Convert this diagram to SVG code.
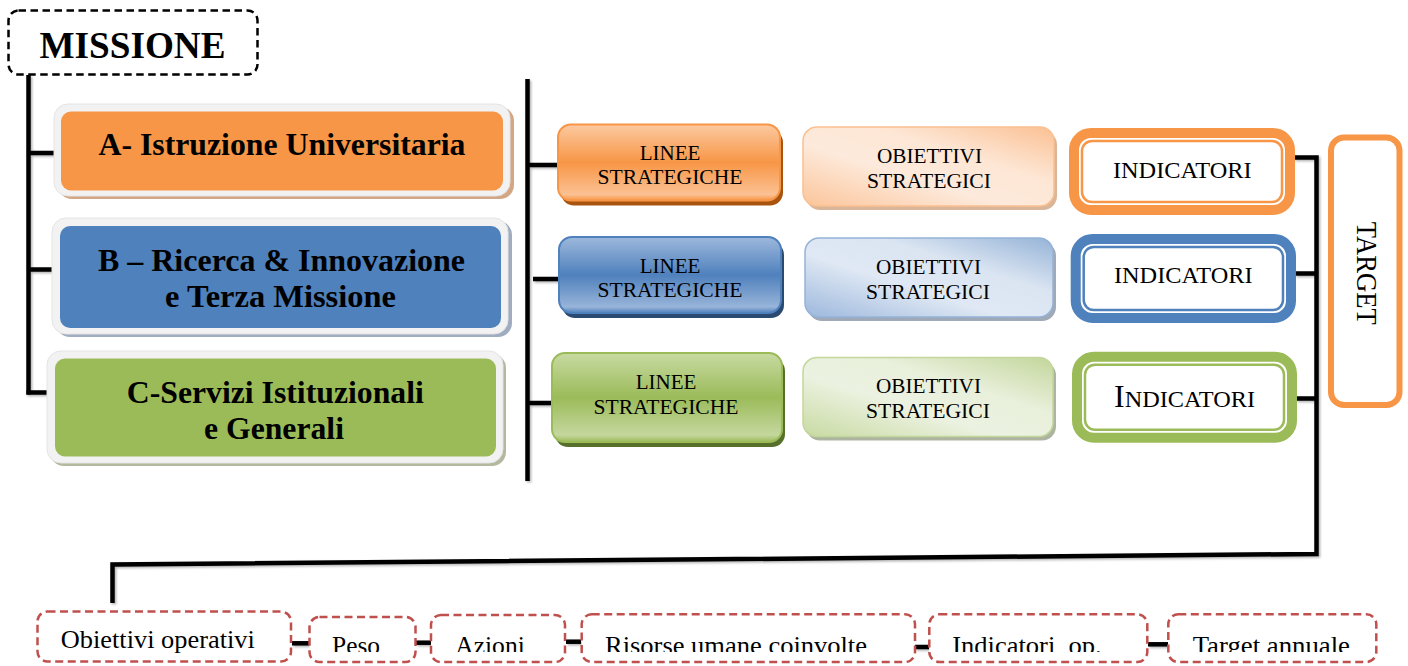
<svg xmlns="http://www.w3.org/2000/svg" width="1408" height="666" viewBox="0 0 1408 666">
<style>
.t{font-family:"Liberation Serif","Times New Roman",serif;fill:#000}
.b{font-weight:bold;font-size:31px}
.s{font-size:21px}
.ind{font-size:23.5px}
.bot{font-size:26px}
.conn{fill:none;stroke:#000;stroke-width:4.5}
.dred{fill:#fff;stroke:#c0504d;stroke-width:2.5;stroke-dasharray:8 4.5}
.frame{fill:#f2f2f2;stroke:#e4e4e4;stroke-width:1}
</style>
<defs>
<filter id="sh" x="-5%" y="-5%" width="110%" height="110%">
<feDropShadow dx="1.5" dy="1.5" stdDeviation="1" flood-color="#000" flood-opacity="0.3"/>
</filter>
<linearGradient id="lo" x1="0" y1="0" x2="0" y2="1"><stop offset="0" stop-color="#fcc9a0"/><stop offset="0.5" stop-color="#f79646"/><stop offset="0.92" stop-color="#fbc193"/><stop offset="1" stop-color="#f79646"/></linearGradient>
<linearGradient id="lb" x1="0" y1="0" x2="0" y2="1"><stop offset="0" stop-color="#9db8dc"/><stop offset="0.5" stop-color="#4f81bd"/><stop offset="0.92" stop-color="#98b4d9"/><stop offset="1" stop-color="#4f81bd"/></linearGradient>
<linearGradient id="lg" x1="0" y1="0" x2="0" y2="1"><stop offset="0" stop-color="#c8daa2"/><stop offset="0.5" stop-color="#9bbb59"/><stop offset="0.92" stop-color="#c5d79e"/><stop offset="1" stop-color="#9bbb59"/></linearGradient>
<linearGradient id="oo" x1="0" y1="1" x2="1" y2="0"><stop offset="0" stop-color="#fbc59a"/><stop offset="0.4" stop-color="#fdeadc"/><stop offset="0.65" stop-color="#fde6d4"/><stop offset="1" stop-color="#fbc093"/></linearGradient>
<linearGradient id="ob" x1="0" y1="1" x2="1" y2="0"><stop offset="0" stop-color="#9db8dc"/><stop offset="0.4" stop-color="#dfe8f4"/><stop offset="0.65" stop-color="#dbe5f2"/><stop offset="1" stop-color="#95b3d7"/></linearGradient>
<linearGradient id="og" x1="0" y1="1" x2="1" y2="0"><stop offset="0" stop-color="#c8daa2"/><stop offset="0.4" stop-color="#ecf2e1"/><stop offset="0.65" stop-color="#e8efda"/><stop offset="1" stop-color="#c3d69b"/></linearGradient>
<clipPath id="clipBottom"><rect x="0" y="0" width="1408" height="652"/></clipPath>
</defs>

<g id="connectors" filter="url(#sh)">
<path class="conn" d="M28.5 75 V394.5"/>
<path class="conn" d="M28.5 153 H55"/>
<path class="conn" d="M28.5 269.5 H53"/>
<path class="conn" d="M26.5 392.5 H48"/>
<path class="conn" d="M527.5 79 V481"/>
<path class="conn" d="M527.5 165 H559"/>
<path class="conn" d="M533 279 H560"/>
<path class="conn" d="M527.5 403 H553"/>
<path class="conn" d="M1294 157.5 H1316.5 V554 L112.5 564.5 V603"/>
<path class="conn" d="M1295 273.5 H1316.5"/>
<path class="conn" d="M1296 398.5 H1316.5"/>
<path class="conn" d="M292 643.3 H309"/>
<path class="conn" d="M416 642.7 H431"/>
<path class="conn" d="M566 641.7 H581"/>
<path class="conn" d="M915 647 H929"/>
<path class="conn" d="M1148 644.3 H1168"/>
</g>

<g id="missione">
<rect x="8.5" y="10.5" width="249" height="64" rx="10" fill="#fff" stroke="#000" stroke-width="2.5" stroke-dasharray="7.5 4.5"/>
<text class="t" x="132.5" y="58.3" text-anchor="middle" font-weight="bold" font-size="38" textLength="186" lengthAdjust="spacingAndGlyphs">MISSIONE</text>
</g>

<g id="nodeA">
<rect x="58" y="107" width="456" height="92" rx="14" fill="#d4a784"/>
<rect class="frame" x="54" y="104" width="456" height="92" rx="14"/>
<rect x="61" y="111.5" width="442" height="79" rx="10" fill="#f79646"/>
<text class="t b" x="282" y="155" text-anchor="middle" textLength="367" lengthAdjust="spacingAndGlyphs">A- Istruzione Universitaria</text>
</g>

<g id="nodeB">
<rect x="56" y="221" width="456" height="116" rx="14" fill="#a0adc0"/>
<rect class="frame" x="52" y="218" width="456" height="116" rx="14"/>
<rect x="60" y="226" width="441" height="102" rx="10" fill="#4f81bd"/>
<text class="t b" x="281.5" y="270.7" text-anchor="middle" textLength="367" lengthAdjust="spacingAndGlyphs">B – Ricerca &amp; Innovazione</text>
<text class="t b" x="280.5" y="307.3" text-anchor="middle" textLength="231" lengthAdjust="spacingAndGlyphs">e Terza Missione</text>
</g>

<g id="nodeC">
<rect x="50" y="354" width="456" height="112" rx="14" fill="#b3b99e"/>
<rect class="frame" x="47" y="351" width="456" height="112" rx="14"/>
<rect x="55" y="358.5" width="441" height="98" rx="10" fill="#9bbb59"/>
<text class="t b" x="275.3" y="402.7" text-anchor="middle" textLength="297" lengthAdjust="spacingAndGlyphs">C-Servizi Istituzionali</text>
<text class="t b" x="274" y="439.3" text-anchor="middle" textLength="140" lengthAdjust="spacingAndGlyphs">e Generali</text>
</g>

<g id="linee1">
<rect x="561" y="129.5" width="222" height="76" rx="13" fill="#a9540e"/>
<rect x="558" y="124.5" width="222" height="76" rx="13" fill="url(#lo)" stroke="#f79646" stroke-width="2"/>
<text class="t s" x="670" y="160" text-anchor="middle">LINEE</text>
<text class="t s" x="670" y="184" text-anchor="middle" textLength="145" lengthAdjust="spacingAndGlyphs">STRATEGICHE</text>
</g>
<g id="linee2">
<rect x="562" y="242" width="222" height="76" rx="13" fill="#2b4a72"/>
<rect x="559" y="237" width="222" height="76" rx="13" fill="url(#lb)" stroke="#4f81bd" stroke-width="2"/>
<text class="t s" x="670" y="273.3" text-anchor="middle">LINEE</text>
<text class="t s" x="670" y="297.3" text-anchor="middle" textLength="145" lengthAdjust="spacingAndGlyphs">STRATEGICHE</text>
</g>
<g id="linee3">
<rect x="555" y="358" width="230" height="89" rx="13" fill="#56702c"/>
<rect x="552" y="353" width="230" height="89" rx="13" fill="url(#lg)" stroke="#9bbb59" stroke-width="2"/>
<text class="t s" x="666" y="389.3" text-anchor="middle">LINEE</text>
<text class="t s" x="666" y="414" text-anchor="middle" textLength="145" lengthAdjust="spacingAndGlyphs">STRATEGICHE</text>
</g>

<g id="obiettivi1">
<rect x="806" y="131" width="251" height="79" rx="14" fill="#d9b599"/>
<rect x="803" y="127" width="251" height="79" rx="14" fill="url(#oo)" stroke="#fac090" stroke-width="1.5"/>
<text class="t s" x="929.5" y="163.3" text-anchor="middle" textLength="105" lengthAdjust="spacingAndGlyphs">OBIETTIVI</text>
<text class="t s" x="929" y="188.3" text-anchor="middle" textLength="124" lengthAdjust="spacingAndGlyphs">STRATEGICI</text>
</g>
<g id="obiettivi2">
<rect x="808" y="242" width="248" height="79" rx="14" fill="#9fa9b7"/>
<rect x="805" y="238" width="248" height="79" rx="14" fill="url(#ob)" stroke="#95b3d7" stroke-width="1.5"/>
<text class="t s" x="928.5" y="274" text-anchor="middle" textLength="105" lengthAdjust="spacingAndGlyphs">OBIETTIVI</text>
<text class="t s" x="928" y="299.3" text-anchor="middle" textLength="124" lengthAdjust="spacingAndGlyphs">STRATEGICI</text>
</g>
<g id="obiettivi3">
<rect x="806" y="361.5" width="250" height="79" rx="14" fill="#adb5a0"/>
<rect x="803" y="357.5" width="250" height="79" rx="14" fill="url(#og)" stroke="#c3d69b" stroke-width="1.5"/>
<text class="t s" x="928.5" y="393.3" text-anchor="middle" textLength="105" lengthAdjust="spacingAndGlyphs">OBIETTIVI</text>
<text class="t s" x="928" y="418.3" text-anchor="middle" textLength="124" lengthAdjust="spacingAndGlyphs">STRATEGICI</text>
</g>

<g id="indicatori1">
<rect x="1074" y="133" width="216" height="77" rx="17" fill="#fff" stroke="#f79646" stroke-width="10"/>
<rect x="1082" y="141" width="200" height="61" rx="10" fill="none" stroke="#f79646" stroke-width="2.5"/>
<text class="t ind" x="1182.3" y="178.3" text-anchor="middle" textLength="138.7" lengthAdjust="spacingAndGlyphs">INDICATORI</text>
</g>
<g id="indicatori2">
<rect x="1075.7" y="239" width="215.3" height="79" rx="17" fill="#fff" stroke="#4f81bd" stroke-width="10"/>
<rect x="1083.7" y="247" width="199.3" height="63" rx="10" fill="none" stroke="#4f81bd" stroke-width="2.5"/>
<text class="t ind" x="1183.3" y="282.7" text-anchor="middle" textLength="138.7" lengthAdjust="spacingAndGlyphs">INDICATORI</text>
</g>
<g id="indicatori3">
<rect x="1077" y="356.7" width="215" height="81" rx="17" fill="#fff" stroke="#9bbb59" stroke-width="10"/>
<rect x="1085" y="364.7" width="199" height="65" rx="10" fill="none" stroke="#9bbb59" stroke-width="2.5"/>
<text class="t ind" x="1184.5" y="406.7" text-anchor="middle" textLength="141" lengthAdjust="spacingAndGlyphs"><tspan font-size="31">I</tspan>NDICATORI</text>
</g>

<g id="target">
<rect x="1331" y="137.5" width="68.5" height="267.5" rx="13" fill="#fff" stroke="#f79646" stroke-width="6"/>
<text class="t" transform="translate(1357,273.3) rotate(90)" x="0" y="0" text-anchor="middle" font-size="29" textLength="103" lengthAdjust="spacingAndGlyphs">TARGET</text>
</g>

<g id="obiettivi-operativi">
<rect class="dred" x="37.5" y="611.5" width="253.5" height="50" rx="10"/>
<text class="t bot" x="157.8" y="648.3" text-anchor="middle" textLength="194" lengthAdjust="spacingAndGlyphs">Obiettivi operativi</text>
</g>
<g id="peso">
<rect class="dred" x="309.5" y="617" width="106" height="45" rx="10"/>
<text class="t bot" x="356" y="653.5" text-anchor="middle" clip-path="url(#clipBottom)" textLength="48" lengthAdjust="spacingAndGlyphs">Peso</text>
</g>
<g id="azioni">
<rect class="dred" x="431" y="615" width="134" height="47" rx="10"/>
<text class="t bot" x="490" y="653.5" text-anchor="middle" clip-path="url(#clipBottom)" textLength="69.5" lengthAdjust="spacingAndGlyphs">Azioni</text>
</g>
<g id="risorse">
<rect class="dred" x="581.7" y="614.3" width="333.3" height="47.7" rx="10"/>
<text class="t bot" x="736" y="653.5" text-anchor="middle" clip-path="url(#clipBottom)" textLength="262" lengthAdjust="spacingAndGlyphs">Risorse umane coinvolte</text>
</g>
<g id="indicatori-op">
<rect class="dred" x="929.3" y="614.3" width="218" height="47.7" rx="10"/>
<text class="t bot" x="1027" y="653.5" text-anchor="middle" clip-path="url(#clipBottom)" textLength="149.4" lengthAdjust="spacingAndGlyphs" xml:space="preserve">Indicatori  op.</text>
</g>
<g id="target-annuale">
<rect class="dred" x="1168.3" y="614.3" width="208" height="47.7" rx="10"/>
<text class="t bot" x="1271.3" y="653.5" text-anchor="middle" clip-path="url(#clipBottom)" textLength="157.3" lengthAdjust="spacingAndGlyphs">Target annuale</text>
</g>
</svg>
